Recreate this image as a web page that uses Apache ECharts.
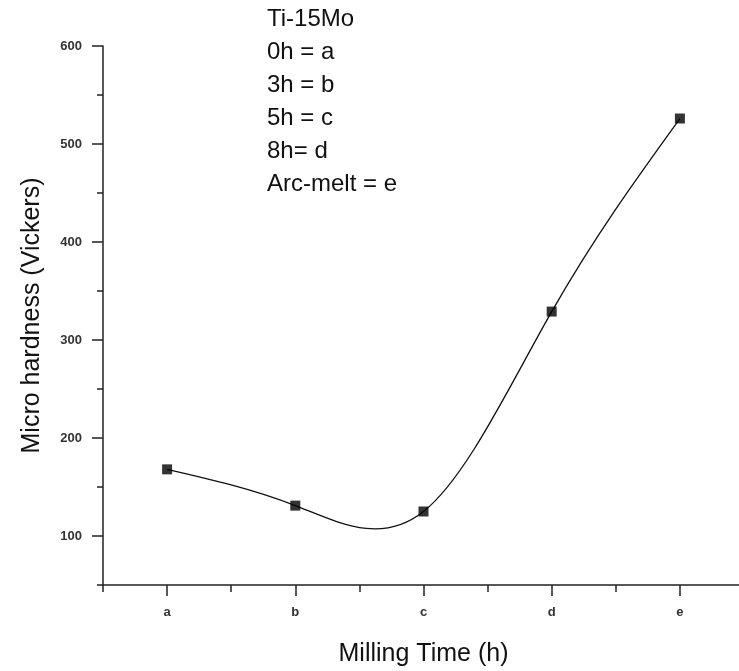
<!DOCTYPE html>
<html>
<head>
<meta charset="utf-8">
<script src="https://cdn.jsdelivr.net/npm/echarts@6/dist/echarts.min.js"></script>
<style>
html,body{margin:0;padding:0;background:#fff;}
#chart{width:739px;height:671px;}
</style>
</head>
<body>
<div id="chart"></div>
<script>
var categories = ['a', 'b', 'c', 'd', 'e'];
var hardness = [168, 131, 125, 329, 526];
var yMajorTicks = [100, 200, 300, 400, 500, 600];
var yMinorTicks = [50, 150, 250, 350, 450, 550];
var noteLines = ['Ti-15Mo', '0h = a', '3h = b', '5h = c', '8h= d', 'Arc-melt = e'];

var FONT = '"Liberation Sans", Arial, sans-serif';

// natural cubic spline (uniform knot spacing) through pixel points -> bezier path
function splinePath(pts) {
  var n = pts.length;
  var ys = pts.map(function (p) { return p[1]; });
  var M = new Array(n).fill(0);
  if (n > 2) {
    var m = n - 2, a = [], b = [], c = [], d = [];
    for (var i = 1; i <= m; i++) {
      a.push(1); b.push(4); c.push(1);
      d.push(6 * (ys[i + 1] - 2 * ys[i] + ys[i - 1]));
    }
    for (var k = 1; k < m; k++) {
      var w = a[k] / b[k - 1];
      b[k] -= w * c[k - 1];
      d[k] -= w * d[k - 1];
    }
    var sol = new Array(m);
    sol[m - 1] = d[m - 1] / b[m - 1];
    for (var k2 = m - 2; k2 >= 0; k2--) sol[k2] = (d[k2] - c[k2] * sol[k2 + 1]) / b[k2];
    for (var j = 0; j < m; j++) M[j + 1] = sol[j];
  }
  var s = 'M' + pts[0][0] + ' ' + pts[0][1];
  for (var i2 = 0; i2 < n - 1; i2++) {
    var x0 = pts[i2][0], y0 = ys[i2], x1 = pts[i2 + 1][0], y1 = ys[i2 + 1];
    var h = x1 - x0;
    var d0 = (y1 - y0) - (2 * M[i2] + M[i2 + 1]) / 6;
    var d1 = (y1 - y0) + (M[i2] + 2 * M[i2 + 1]) / 6;
    s += ' C' + (x0 + h / 3) + ' ' + (y0 + d0 / 3) + ' ' + (x1 - h / 3) + ' ' + (y1 - d1 / 3) + ' ' + x1 + ' ' + y1;
  }
  return s;
}

var chart = echarts.init(document.getElementById('chart'), null, {renderer: 'canvas'});
chart.setOption({
  animation: false,
  backgroundColor: '#ffffff',
  grid: {left: 103, width: 641, top: 46, bottom: 86, containLabel: false, outerBoundsMode: 'none'},
  xAxis: [{
    type: 'category',
    data: categories,
    boundaryGap: true,
    position: 'bottom',
    name: 'Milling Time (h)',
    nameLocation: 'middle',
    nameGap: 57,
    nameTextStyle: {fontFamily: FONT, fontSize: 25, color: '#111'},
    axisLine: {show: true, lineStyle: {color: '#222', width: 1.5}},
    axisTick: {show: true, alignWithLabel: true, length: 11, lineStyle: {color: '#222', width: 1.5}},
    axisLabel: {show: true, margin: 21, fontFamily: FONT, fontSize: 13, fontWeight: 'bold', color: '#333'},
    splitLine: {show: false}
  }, {
    type: 'category',
    data: categories,
    boundaryGap: true,
    position: 'bottom',
    axisLine: {show: false},
    axisTick: {show: true, alignWithLabel: false, length: 7, lineStyle: {color: '#222', width: 1.5}},
    axisLabel: {show: false},
    splitLine: {show: false}
  }],
  yAxis: [{
    type: 'value',
    min: 50,
    max: 600,
    position: 'left',
    name: 'Micro hardness (Vickers)',
    nameLocation: 'middle',
    nameGap: 58,
    nameTextStyle: {fontFamily: FONT, fontSize: 25, color: '#111'},
    axisLine: {show: true, lineStyle: {color: '#222', width: 1.5}},
    axisTick: {show: true, length: 11, customValues: yMajorTicks, lineStyle: {color: '#222', width: 1.5}},
    axisLabel: {show: true, margin: 21, customValues: yMajorTicks, fontFamily: FONT, fontSize: 13, fontWeight: 'bold', color: '#333'},
    splitLine: {show: false}
  }, {
    type: 'value',
    min: 50,
    max: 600,
    position: 'left',
    axisLine: {show: false},
    axisTick: {show: true, length: 6, customValues: yMinorTicks, lineStyle: {color: '#222', width: 1.5}},
    axisLabel: {show: false},
    splitLine: {show: false}
  }],
  graphic: [{
    type: 'text',
    left: 267,
    top: 3,
    style: {
      text: noteLines.join('\n'),
      font: '24px ' + FONT,
      lineHeight: 33,
      fill: '#111'
    }
  }],
  series: [{
    type: 'custom',
    xAxisIndex: 0,
    yAxisIndex: 0,
    data: hardness.map(function (v, i) { return [i, v]; }),
    renderItem: function (params, api) {
      if (params.dataIndex !== 0) return {type: 'group', children: []};
      var pts = hardness.map(function (v, i) { return api.coord([i, v]); });
      return {
        type: 'path',
        shape: {pathData: splinePath(pts)},
        style: {fill: 'none', stroke: '#111', lineWidth: 1.3}
      };
    },
    z: 2
  }, {
    type: 'scatter',
    xAxisIndex: 0,
    yAxisIndex: 0,
    data: hardness.map(function (v, i) { return [i, v]; }),
    symbol: 'rect',
    symbolSize: 10,
    itemStyle: {color: '#000'},
    z: 3
  }]
});
</script>
</body>
</html>
